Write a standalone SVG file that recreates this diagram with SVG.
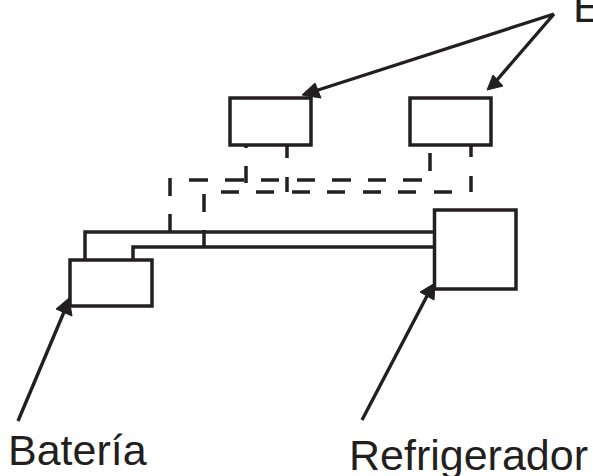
<svg xmlns="http://www.w3.org/2000/svg" width="593" height="476" viewBox="0 0 593 476">
<style>
text{font-family:"Liberation Sans",Arial,sans-serif;font-size:43px;fill:#231f20}
.b{fill:#fff;stroke:#231f20;stroke-width:3.5}
.w{fill:none;stroke:#231f20;stroke-width:3.5}
.d{fill:none;stroke:#231f20;stroke-width:3.5}
.a{fill:none;stroke:#231f20;stroke-width:3.4}
.h{fill:#231f20;stroke:#231f20;stroke-width:1;stroke-linejoin:round}
</style>
<rect width="593" height="476" fill="#fff"/>
<g id="connectors">
<path class="w" d="M85 260V232H435M133 260V247H435M170 214V232M204 230V247"/>
<path class="d" d="M170 178V196M204 194V212M246 145V148M246 166V183M287 145V158M287 177V192M430 153V171M471 145V157M471 176V192M189 180H208M225 180H244M261 180H279M297 180H315M332 180H351M368 180H386M403 180H422M221 192H239M256 192H274M292 192H310M327 192H345M363 192H381M398 192H416M434 192H452"/>
<path class="a" d="M554 14L315 91M554 14L497 80M18 421L64 312M362 420L427 296"/>
<path class="h" d="M302 95L315 83L321 98ZM487 90L493 75L503 86ZM69 298L72 316L56 309ZM435 283L434 300L420 292Z"/>
</g>
<g id="evaporador-1"><rect class="b" x="230" y="98" width="81" height="47"/></g>
<g id="evaporador-2"><rect class="b" x="410" y="98" width="81" height="47"/></g>
<g id="refrigerador"><rect class="b" x="434.500" y="210" width="81.500" height="79"/><text x="349" y="469.500">Refrigerador</text></g>
<g id="bateria"><rect class="b" x="70" y="260" width="82" height="46"/><text x="8" y="464.500">Batería</text></g>
<g id="label-e"><text x="573" y="21.500">E</text></g>
</svg>
